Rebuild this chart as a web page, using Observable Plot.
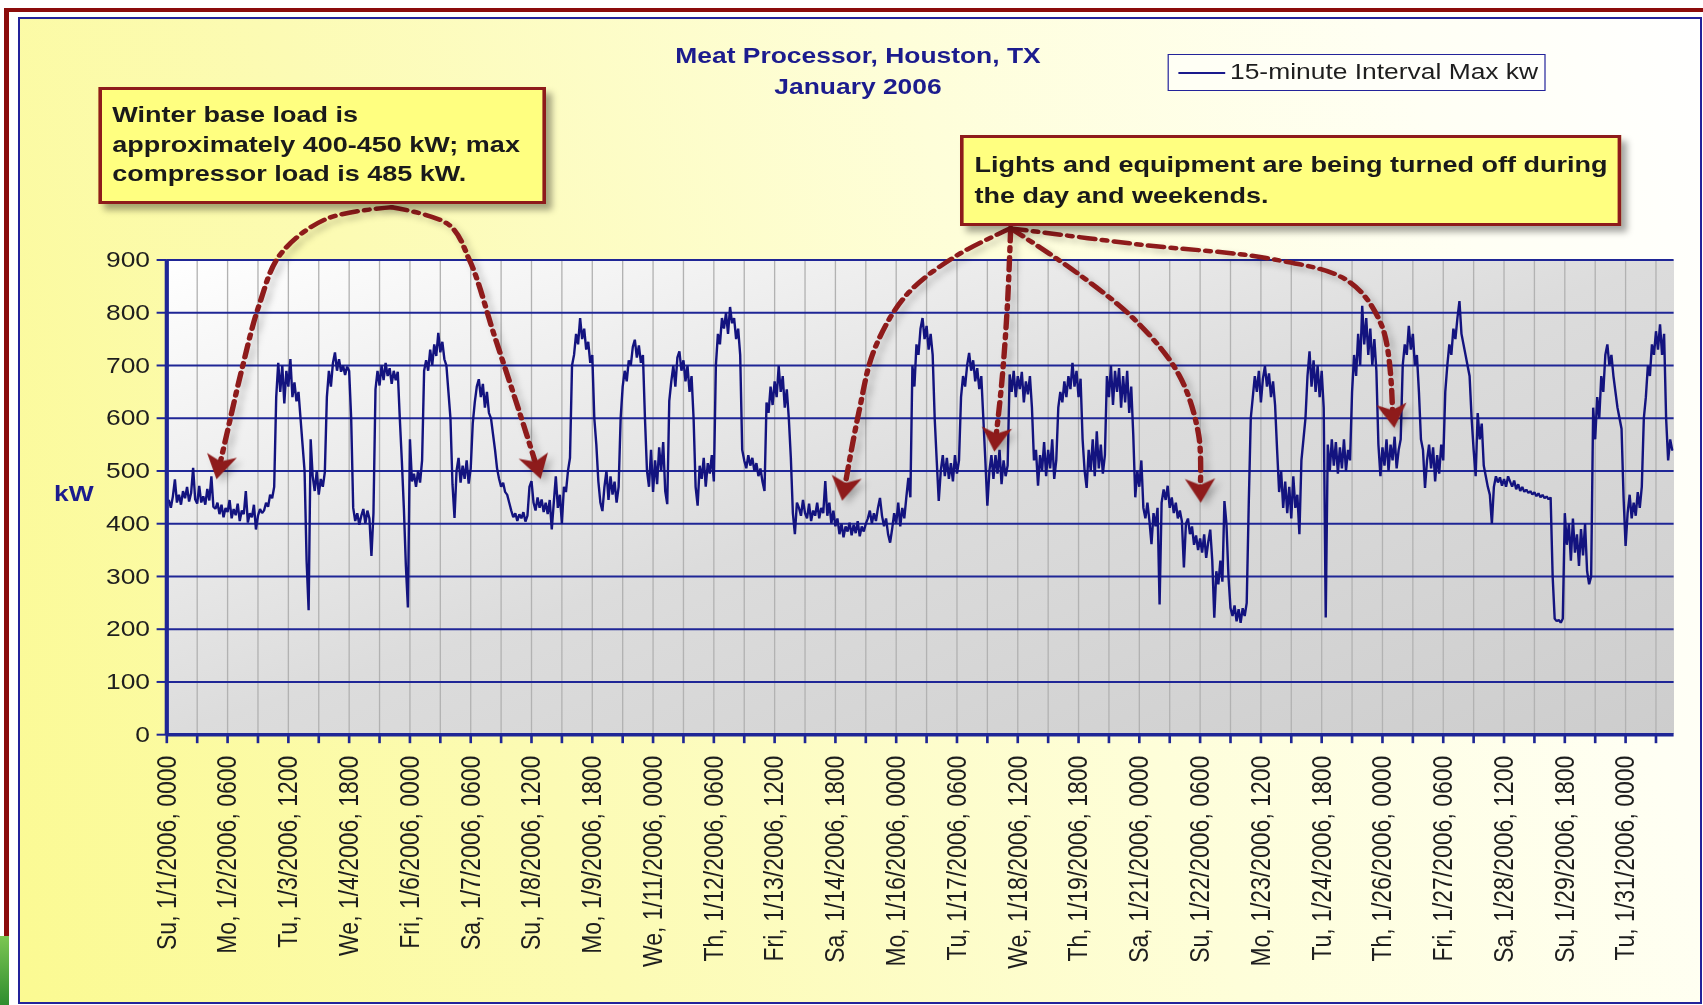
<!DOCTYPE html>
<html>
<head>
<meta charset="utf-8">
<script src="https://cdn.jsdelivr.net/npm/d3@7"></script>
<script src="https://cdn.jsdelivr.net/npm/@observablehq/plot@0.6"></script>
<style>
html, body { margin: 0; padding: 0; background: #fff; }
#page { position: relative; width: 1703px; height: 1005px; overflow: hidden; background: #fff; font-family: "Liberation Sans", Arial, sans-serif; }
#redframe { position: absolute; left: 4px; top: 8px; width: 1720px; height: 928px; border-left: 5px solid #8b0c0c; border-top: 4px solid #8b0c0c; }
#green { position: absolute; left: 0; top: 936px; width: 9px; height: 69px; background: linear-gradient(#7cc653, #2f8d2f); }
#panel { position: absolute; left: 18px; top: 17px; width: 1684px; height: 987px; box-sizing: border-box; border: 2px solid #23239a;
  background: linear-gradient(70deg, #fbfa92 0%, #fcfbb4 30%, #fefed9 60%, #fffff4 85%, #ffffff 100%); }
#stage { position: absolute; left: 0; top: 0; width: 1419.17px; height: 1005px; transform: scaleX(1.2); transform-origin: 0 0; }
#plotbg { position: absolute; left: 138.5px; top: 259.5px; width: 1256.2px; height: 474.7px;
  background: linear-gradient(to bottom right, #ffffff 0%, #dcdcdc 50%, #cdcdcd 100%); }
#chart { position: absolute; left: 0; top: 0; }
#chart svg { background: transparent !important; overflow: visible; }
.title { position: absolute; left: 515px; width: 400px; top: 39.6px; text-align: center; color: #1c1c8e; font-weight: bold; font-size: 22px; line-height: 31.5px; white-space: nowrap; }
.legend { position: absolute; left: 973px; top: 54px; width: 315px; height: 37px; box-sizing: border-box; border: 1.5px solid #23239a; background: rgba(255,255,255,0.55); }
.legend .swatch { position: absolute; left: 8px; top: 16.5px; width: 39px; height: 0; border-top: 2px solid #1a1a8c; }
.legend .label { position: absolute; left: 51px; top: 5px; font-size: 22px; line-height: 24px; color: #1e1e1e; white-space: nowrap; }
.note { position: absolute; box-sizing: border-box; border: 3px solid #8e1b1b; background: #ffff80; color: #1a1a1a; font-weight: bold; font-size: 22.5px; white-space: nowrap; box-shadow: 5px 6px 6px rgba(0,0,0,0.35); }
#note1 { left: 81.5px; top: 87px; width: 373.5px; height: 117px; padding: 10px 0 0 9px; line-height: 29.5px; }
#note2 { left: 800px; top: 135px; width: 551px; height: 91px; padding: 12px 0 0 9px; line-height: 30.5px; }
.ylab { position: absolute; left: 40px; width: 43px; top: 481px; text-align: center; color: #1c1c8e; font-weight: bold; font-size: 22px; line-height: 26px; }
</style>
</head>
<body>
<div id="page">
  <div id="redframe"></div>
  <div id="green"></div>
  <div id="panel"></div>
  <div id="stage">
    <div id="plotbg"></div>
    <div id="chart"></div>
    <div class="ylab">kW</div>
    <div class="title">Meat Processor, Houston, TX<br>January 2006</div>
    <div class="legend"><div class="swatch"></div><div class="label">15-minute Interval Max kw</div></div>
    <div class="note" id="note1">Winter base load is<br>approximately 400-450 kW; max<br>compressor load is 485 kW.</div>
    <div class="note" id="note2">Lights and equipment are being turned off during<br>the day and weekends.</div>
  </div>
</div>
<script>
// ---- Tick labels (one every 30 hours, minor ticks every 15 hours) ----
const tickLabels = ["Su, 1/1/2006, 0000","Mo, 1/2/2006, 0600","Tu, 1/3/2006, 1200","We, 1/4/2006, 1800","Fri, 1/6/2006, 0000","Sa, 1/7/2006, 0600","Su, 1/8/2006, 1200","Mo, 1/9/2006, 1800","We, 1/11/2006, 0000","Th, 1/12/2006, 0600","Fri, 1/13/2006, 1200","Sa, 1/14/2006, 1800","Mo, 1/16/2006, 0000","Tu, 1/17/2006, 0600","We, 1/18/2006, 1200","Th, 1/19/2006, 1800","Sa, 1/21/2006, 0000","Su, 1/22/2006, 0600","Mo, 1/23/2006, 1200","Tu, 1/24/2006, 1800","Th, 1/26/2006, 0000","Fri, 1/27/2006, 0600","Sa, 1/28/2006, 1200","Su, 1/29/2006, 1800","Tu, 1/31/2006, 0000"];
const yTicks = [0, 100, 200, 300, 400, 500, 600, 700, 800, 900];
const hoursInMonth = 744;
const minorTickStep = 15;

// ---- Load readings (kW), one value per hour, day by day ----
const day01 = [438,445,430,452,484,440,455,436,462,448,470,442,458,506,446,438,472,440,452,436,466,444,490,432];
const day02 = [428,440,418,436,412,430,422,445,410,428,416,438,405,425,418,462,402,420,412,436,389,415,428,420];
const day03 = [425,440,432,455,448,470,640,705,650,700,628,690,660,712,640,668,632,650,600,550,500,330,236,560];
const day04 = [490,462,500,455,485,470,498,640,690,660,705,725,690,712,688,700,682,698,690,600,430,405,420,398];
const day05 = [415,428,400,425,410,339,420,655,690,662,700,672,705,680,695,665,690,672,688,600,520,430,320,241];
const day06 = [560,480,495,470,500,478,520,690,710,690,730,700,740,718,762,725,745,712,700,650,600,475,411,500];
const day07 = [525,478,510,485,520,476,505,590,630,660,674,640,665,620,650,610,600,570,540,505,485,470,478,460];
const day08 = [455,440,425,412,420,405,418,410,422,404,415,470,481,440,425,450,430,446,422,440,418,445,389,440];
const day09 = [490,430,455,400,470,460,500,525,700,720,760,740,790,750,770,730,745,705,720,600,550,480,440,424];
const day10 = [470,500,445,490,455,480,440,470,600,660,690,670,710,700,735,749,715,738,705,720,600,500,470,540];
const day11 = [460,520,475,545,500,555,462,437,633,670,700,660,715,727,690,710,670,700,650,680,600,470,434,510];
const day12 = [485,525,470,515,495,530,480,700,760,740,790,770,800,760,811,780,790,750,770,720,540,520,505,530];
const day13 = [510,525,500,515,490,505,480,462,630,610,660,625,670,640,699,650,680,620,655,600,525,420,380,440];
const day14 = [430,415,445,420,410,438,405,425,415,440,410,430,420,481,415,440,400,425,395,410,380,400,374,395];
const day15 = [385,402,378,398,382,405,376,395,385,400,410,425,400,420,405,430,449,415,395,410,380,364,390,420];
const day16 = [400,440,395,430,410,450,487,450,700,660,740,720,770,790,750,775,730,760,720,600,520,443,500,530];
const day17 = [490,525,485,515,480,530,495,520,640,680,660,700,724,690,710,670,695,655,680,600,520,434,500,530];
const day18 = [485,530,495,540,475,520,490,510,683,650,690,640,680,655,688,630,670,645,680,620,520,540,472,530];
const day19 = [500,555,490,540,505,560,485,520,620,650,630,670,640,680,655,705,660,690,640,675,560,500,468,540];
const day20 = [500,560,490,575,505,550,495,530,680,640,700,625,690,650,695,620,680,630,690,610,660,569,450,500];
const day21 = [470,520,430,410,440,405,361,420,395,430,247,440,465,445,472,430,450,420,440,410,425,405,317,400];
const day22 = [410,380,395,360,378,350,372,345,380,335,365,389,330,222,310,285,330,290,443,400,300,240,225,245];
const day23 = [215,238,212,240,225,250,437,600,640,680,650,690,630,675,699,660,685,640,670,625,540,460,500,430];
const day24 = [480,420,470,410,490,430,455,380,520,560,600,680,727,660,710,650,700,640,690,620,222,550,500,560];
const day25 = [510,555,495,545,505,560,500,540,520,650,720,680,760,700,813,740,790,720,770,700,750,690,550,490];
const day26 = [545,510,560,500,550,520,565,505,540,560,700,740,720,775,730,760,700,720,650,560,540,468,520,550];
const day27 = [505,545,480,530,495,550,520,650,700,740,720,770,750,790,822,760,740,720,700,680,600,540,490,610];
const day28 = [560,590,510,490,470,455,400,470,490,478,488,472,485,470,490,480,470,482,465,475,462,470,460,465];
const day29 = [458,462,455,460,452,458,450,455,448,452,446,450,300,220,215,218,212,220,420,360,400,330,410,345];
const day30 = [380,320,390,340,400,310,285,300,620,560,640,600,680,650,720,740,700,720,680,650,620,600,580,450];
const day31 = [358,420,455,410,440,415,460,430,470,600,640,700,680,740,720,765,730,778,720,760,600,520,560,540];
const days = [day01,day02,day03,day04,day05,day06,day07,day08,day09,day10,day11,day12,day13,day14,day15,day16,day17,day18,day19,day20,day21,day22,day23,day24,day25,day26,day27,day28,day29,day30,day31];

// ---- Annotation arrow paths, as [hour, kW] points (origin at the note, last point = tip) ----
const arrowBaseLoadLeft  = [[111.0,1000],[78.8,978],[56.3,912],[45.6,815],[37.0,692],[29.5,568],[24.6,486]];
const arrowBaseLoadRight = [[111.0,1000],[138.8,968],[149.6,898],[161.9,754],[174.2,610],[184.4,486]];
const arrowLightsA = [[416.5,960],[389.7,908],[365.6,836],[349.5,733],[341.5,610],[333.4,445]];
const arrowLightsB = [[416.5,960],[414.9,815],[412.2,671],[408.5,538]];
const arrowLightsC = [[416.5,960],[448.7,877],[478.2,785],[499.6,682],[509.3,568],[510.3,441]];
const arrowLightsD = [[416.5,960],[480.8,929],[545.2,902],[582.7,861],[599.8,774],[605.8,583]];
const arrows = [arrowBaseLoadLeft, arrowBaseLoadRight, arrowLightsA, arrowLightsB, arrowLightsC, arrowLightsD];

// ---- Layout ----
const W = 1419.17, H = 1005;
const ML = 138.5, MR = W - 1394.7, MT = 259.5, MB = H - 734.2;
const PXH = (W - ML - MR) / hoursInMonth;
const PXK = (H - MT - MB) / 900;
const NAVY = "#1f2696";
const LINE = "#13137f";
const ARROW = "#8e1b1b";

const series = [];
days.forEach((vals, d) => vals.forEach((kw, i) => series.push({hour: d * 24 + i, kw})));

const xTicks = d3.range(0, hoursInMonth, minorTickStep);

// notched arrowhead symbol (points up before rotation)
const arrowHead = {
  draw(context, size) {
    const k = Math.sqrt(size / (Math.PI * 81));
    context.moveTo(0, -14 * k);
    context.lineTo(12 * k, 9 * k);
    context.lineTo(0, 3 * k);
    context.lineTo(-12 * k, 9 * k);
    context.closePath();
  }
};

const arrowRows = [];
const heads = [];
arrows.forEach((pts, id) => {
  const [h1, k1] = pts[pts.length - 2];
  const [h2, k2] = pts[pts.length - 1];
  const dx = (h2 - h1) * PXH, dy = -(k2 - k1) * PXK;
  const len = Math.hypot(dx, dy);
  const ux = dx / len, uy = dy / len;
  const back = 14;
  const hc = h2 - ux * back / PXH, kc = k2 + uy * back / PXK;
  pts.slice(0, -1).forEach(([hour, kw]) => arrowRows.push({id, hour, kw}));
  arrowRows.push({id, hour: hc, kw: kc});
  heads.push({hour: hc, kw: kc, angle: Math.atan2(ux, -uy) * 180 / Math.PI});
});

const plot = Plot.plot({
  width: W, height: H,
  marginLeft: ML, marginRight: MR, marginTop: MT, marginBottom: MB,
  style: {background: "transparent", fontFamily: "'Liberation Sans', Arial, sans-serif", fontSize: "22px", color: "#1e1e1e", overflow: "visible"},
  x: {domain: [0, hoursInMonth]},
  y: {domain: [0, 900]},
  marks: [
    Plot.ruleX(xTicks.filter(d => d > 0), {stroke: "#b2b2b2", strokeWidth: 1.1}),
    Plot.ruleY(yTicks.filter(d => d > 0), {stroke: NAVY, strokeWidth: 2}),
    Plot.line(series, {x: "hour", y: "kw", stroke: LINE, strokeWidth: 2, strokeLinejoin: "miter"}),
    Plot.axisY({ticks: yTicks, tickSize: 8, tickPadding: 6, stroke: NAVY, strokeWidth: 2, fill: "#1e1e1e", fontSize: 22, label: null}),
    Plot.axisX({ticks: xTicks, tickSize: 9, tickPadding: 12, tickRotate: -90, stroke: NAVY, strokeWidth: 2.2, fill: "#1e1e1e", fontSize: 23, label: null,
      tickFormat: d => d % 30 === 0 ? tickLabels[d / 30] : ""}),
    Plot.ruleX([0], {stroke: NAVY, strokeWidth: 3.5}),
    Plot.ruleY([0], {stroke: NAVY, strokeWidth: 3.5}),
    Plot.line(arrowRows, {x: "hour", y: "kw", z: "id", curve: "catmull-rom", stroke: ARROW, strokeWidth: 4.5, strokeDasharray: "13,6,4,6"}),
    Plot.dot(heads, {x: "hour", y: "kw", symbol: arrowHead, r: 9.5, fill: ARROW, stroke: "none", rotate: "angle"})
  ]
});
document.getElementById("chart").appendChild(plot);

// soft shadow under the annotation arrows
const svg = d3.select(plot);
svg.selectAll('g[aria-label="line"]').filter((d, i) => i > 0).style("filter", "drop-shadow(4px 4px 3px rgba(0,0,0,0.22))");
svg.selectAll('g[aria-label="dot"]').style("filter", "drop-shadow(4px 4px 3px rgba(0,0,0,0.22))");
</script>
</body>
</html>
